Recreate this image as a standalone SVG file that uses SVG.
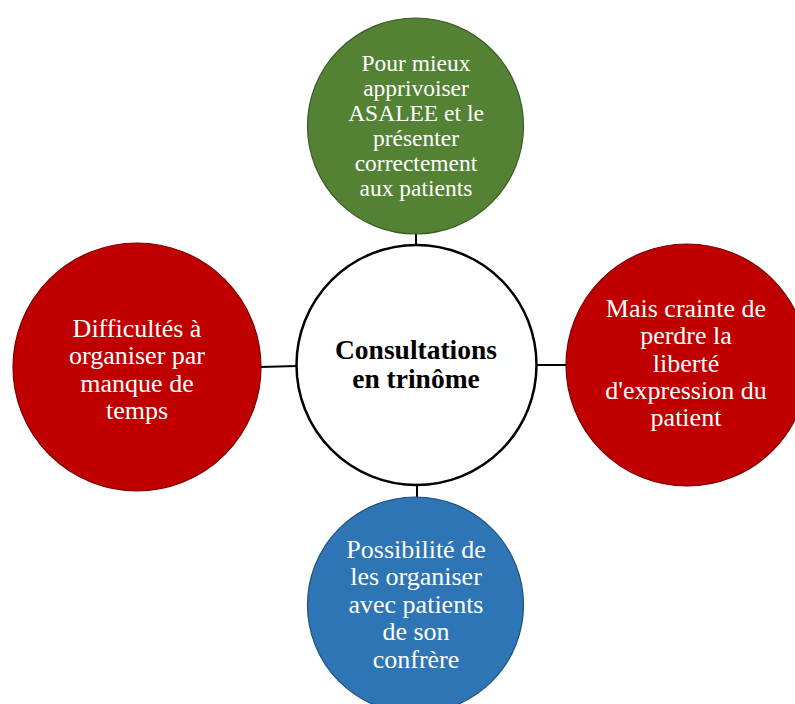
<svg xmlns="http://www.w3.org/2000/svg" width="795" height="704" viewBox="0 0 795 704">
<style>
.node{stroke-width:1.2}
.red{fill:#C00000;stroke:#7a0000}
.green{fill:#548235;stroke:#3a5a25}
.blue{fill:#2E75B6;stroke:#1f4f7c}
.center{fill:#ffffff;stroke:#000000;stroke-width:2.5}
.t{font-family:"Liberation Serif","Times New Roman",serif;fill:#ffffff;text-anchor:middle}
.t23{font-size:23.5px}
.t26{font-size:26px}
.tc{font-family:"Liberation Serif","Times New Roman",serif;fill:#000000;font-weight:bold;font-size:27.5px;text-anchor:middle}
.conn{stroke:#000000;stroke-width:2;fill:none}
</style>
<rect width="795" height="704" fill="#ffffff"/>
<g id="connectors">
<line class="conn" x1="416" y1="232" x2="416" y2="246"/>
<line class="conn" x1="260" y1="367" x2="297" y2="366"/>
<line class="conn" x1="536" y1="365" x2="567" y2="365"/>
<line class="conn" x1="417" y1="484" x2="417" y2="498"/>
</g>
<g id="node-top">
<circle class="node green" cx="415.5" cy="126" r="108"/>
<text class="t t23" x="416"><tspan x="416" y="71">Pour mieux</tspan><tspan x="416" y="96">apprivoiser</tspan><tspan x="416" y="121">ASALEE et le</tspan><tspan x="416" y="146">présenter</tspan><tspan x="416" y="171">correctement</tspan><tspan x="416" y="195.5">aux patients</tspan></text>
</g>
<g id="node-left">
<circle class="node red" cx="137" cy="367" r="124"/>
<text class="t t26"><tspan x="137" y="337">Difficultés à</tspan><tspan x="137" y="364">organiser par</tspan><tspan x="137" y="391.5">manque de</tspan><tspan x="137" y="418.5">temps</tspan></text>
</g>
<g id="node-right">
<circle class="node red" cx="687" cy="365" r="121"/>
<text class="t t26"><tspan x="686" y="317">Mais crainte de</tspan><tspan x="686" y="344">perdre la</tspan><tspan x="686" y="371.5">liberté</tspan><tspan x="686" y="398.5">d'expression du</tspan><tspan x="686" y="426">patient</tspan></text>
</g>
<g id="node-bottom">
<circle class="node blue" cx="415.5" cy="605" r="108"/>
<text class="t t26"><tspan x="416" y="557.5">Possibilité de</tspan><tspan x="416" y="585">les organiser</tspan><tspan x="416" y="612.5">avec patients</tspan><tspan x="416" y="640">de son</tspan><tspan x="416" y="667.5">confrère</tspan></text>
</g>
<g id="node-center">
<circle class="center" cx="416.5" cy="365" r="120"/>
<text class="tc"><tspan x="416" y="359">Consultations</tspan><tspan x="416" y="388">en trinôme</tspan></text>
</g>
</svg>
